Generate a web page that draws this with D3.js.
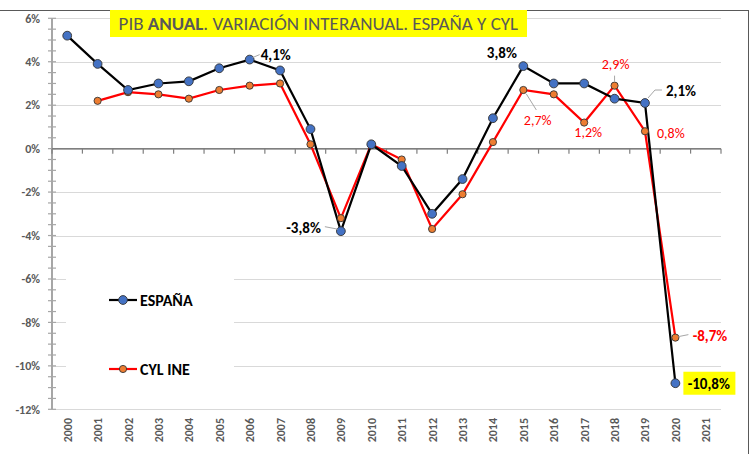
<!DOCTYPE html>
<html>
<head>
<meta charset="utf-8">
<script src="https://cdn.jsdelivr.net/npm/d3@7"></script>
<style>
  body { margin: 0; background: #fff; }
  text { font-family: Carlito, "Open Sans", "Liberation Sans", sans-serif; }
</style>
</head>
<body>
<svg width="751" height="454"></svg>
<script>
"use strict";
// years on the x axis
var years = ["2000","2001","2002","2003","2004","2005","2006","2007","2008","2009","2010",
             "2011","2012","2013","2014","2015","2016","2017","2018","2019","2020","2021"];
// PIB variación interanual (%)
var espana = [5.2, 3.9, 2.7, 3.0, 3.1, 3.7, 4.1, 3.6, 0.9, -3.8, 0.2,
              -0.8, -3.0, -1.4, 1.4, 3.8, 3.0, 3.0, 2.3, 2.1, -10.8];
var cylYears = years.slice(1, 21);
var cyl = [2.2, 2.6, 2.5, 2.3, 2.7, 2.9, 3.0, 0.2, -3.2, 0.2,
           -0.5, -3.7, -2.1, 0.3, 2.7, 2.5, 1.2, 2.9, 0.8, -8.7];
var yTicks = [6, 4, 2, 0, -2, -4, -6, -8, -10, -12];

var svg = d3.select("svg");
var plotL = 52, plotR = 721, plotT = 18.3, plotB = 409.3;

var x = d3.scaleBand().domain(years).range([plotL, plotR]);
var y = d3.scaleLinear().domain([-12, 6]).range([plotB, plotT]);
var cx = function(yr) { return x(yr) + x.bandwidth() / 2; };
var fmt = function(v) { return (v + "").replace(".", ",") + "%"; };

// frame
svg.append("line").attr("x1", 0).attr("x2", 748).attr("y1", 10.5).attr("y2", 10.5)
  .attr("stroke", "#595959").attr("stroke-width", 1);
svg.append("line").attr("x1", 748.5).attr("x2", 748.5).attr("y1", 10).attr("y2", 454)
  .attr("stroke", "#595959").attr("stroke-width", 1);

// gridlines
svg.append("g").selectAll("line").data(yTicks).enter().append("line")
  .attr("x1", plotL).attr("x2", plotR)
  .attr("y1", function(d) { return Math.round(y(d)) + 0.5; })
  .attr("y2", function(d) { return Math.round(y(d)) + 0.5; })
  .attr("stroke", "#d9d9d9").attr("stroke-width", 1.2);

// legend background hides gridlines
svg.append("rect").attr("x", 66).attr("y", 255).attr("width", 168).attr("height", 145).attr("fill", "#fff");

// y axis with minor ticks every 0.5
var minor = d3.range(-12, 6.01, 0.5);
var yAxis = svg.append("g");
yAxis.append("line").attr("x1", plotL).attr("x2", plotL).attr("y1", plotT).attr("y2", plotB)
  .attr("stroke", "#a6a6a6").attr("stroke-width", 2);
yAxis.selectAll("line.tk").data(minor).enter().append("line").attr("class", "tk")
  .attr("x1", plotL - 4).attr("x2", plotL + 4)
  .attr("y1", function(d) { return y(d); }).attr("y2", function(d) { return y(d); })
  .attr("stroke", "#a6a6a6").attr("stroke-width", 1.2);
yAxis.selectAll("text").data(yTicks).enter().append("text")
  .attr("x", 40).attr("y", function(d) { return y(d); }).attr("dy", "0.35em")
  .attr("text-anchor", "end").attr("font-size", 12).attr("font-weight", "bold")
  .attr("fill", "#595959").text(function(d) { return d + "%"; });

// x axis on the zero line
var xAxis = svg.append("g");
xAxis.append("line").attr("x1", plotL).attr("x2", plotR).attr("y1", y(0)).attr("y2", y(0))
  .attr("stroke", "#7f7f7f").attr("stroke-width", 1.5);
xAxis.selectAll("line.tk").data(years.concat(["end"])).enter().append("line").attr("class", "tk")
  .attr("x1", function(d, i) { return plotL + i * x.bandwidth(); })
  .attr("x2", function(d, i) { return plotL + i * x.bandwidth(); })
  .attr("y1", y(0)).attr("y2", y(0) + 5)
  .attr("stroke", "#7f7f7f").attr("stroke-width", 1.2);
xAxis.selectAll("text").data(years).enter().append("text")
  .attr("transform", function(d) { return "translate(" + (cx(d) + 4.5) + ",418) rotate(-90)"; })
  .attr("text-anchor", "end").attr("font-size", 12).attr("font-weight", "bold")
  .attr("fill", "#595959").text(function(d) { return d; });

// lines
var lineE = d3.line().x(function(d, i) { return cx(years[i]); }).y(function(d) { return y(d); });
var lineC = d3.line().x(function(d, i) { return cx(cylYears[i]); }).y(function(d) { return y(d); });
svg.append("path").attr("d", lineC(cyl)).attr("fill", "none").attr("stroke", "#ff0000").attr("stroke-width", 2.2);
svg.append("path").attr("d", lineE(espana)).attr("fill", "none").attr("stroke", "#000").attr("stroke-width", 2.2);

svg.append("g").selectAll("circle").data(cyl).enter().append("circle")
  .attr("cx", function(d, i) { return cx(cylYears[i]); }).attr("cy", function(d) { return y(d); })
  .attr("r", 3.6).attr("fill", "#ed7d31").attr("stroke", "#333").attr("stroke-width", 0.9);
svg.append("g").selectAll("circle").data(espana).enter().append("circle")
  .attr("cx", function(d, i) { return cx(years[i]); }).attr("cy", function(d) { return y(d); })
  .attr("r", 4.4).attr("fill", "#4472c4").attr("stroke", "#333").attr("stroke-width", 0.9);

// data labels
function label(yr, v, dx, dy, color, bold, anchor) {
  svg.append("text").attr("x", cx(yr) + dx).attr("y", y(v) + dy).attr("dy", "0.35em")
    .attr("text-anchor", anchor || "start").attr("font-size", bold ? 15 : 14)
    .attr("font-weight", bold ? "bold" : "normal").attr("fill", color).text(fmt(v));
}
function leader(yr, v, pts) {
  var px = cx(yr), py = y(v);
  svg.append("polyline")
    .attr("points", pts.map(function(p) { return [px + p[0], py + p[1]]; }).join(" "))
    .attr("fill", "none").attr("stroke", "#a6a6a6").attr("stroke-width", 1);
}
leader("2006", 4.1, [[3, -2], [10, -5]]);
label("2006", 4.1, 11, -5, "#000", true);
leader("2009", -3.8, [[-3, -2], [-16, -4.5]]);
label("2009", -3.8, -20, -3.5, "#000", true, "end");
label("2015", 3.8, -6.5, -13, "#000", true, "end");
leader("2015", 2.7, [[3, 4], [13, 20]]);
label("2015", 2.7, 0.5, 30.5, "#ff0000", false);
label("2017", 1.2, 4, 10, "#ff0000", false, "middle");
leader("2018", 2.9, [[0, -4], [0, -10]]);
label("2018", 2.9, 1, -22, "#ff0000", false, "middle");
leader("2019", 2.1, [[3, -5], [10, -13], [17, -13]]);
label("2019", 2.1, 21, -12, "#000", true);
label("2019", 0.8, 12, 1.5, "#ff0000", false);
leader("2020", -8.7, [[3, -1], [13, -3]]);
label("2020", -8.7, 17.3, -2, "#ff0000", true);
svg.append("rect").attr("x", cx("2020") + 8).attr("y", y(-10.8) - 11.5).attr("width", 52).attr("height", 23).attr("fill", "#ffff00");
label("2020", -10.8, 12.3, 1, "#000", true);

// title
svg.append("rect").attr("x", 110).attr("y", 10).attr("width", 417).attr("height", 27).attr("fill", "#ffff00");
var title = svg.append("text").attr("x", 318.3).attr("y", 29.5)
  .attr("text-anchor", "middle").attr("font-size", 19).attr("fill", "#595959");
title.append("tspan").text("PIB ");
title.append("tspan").attr("font-weight", "bold").text("ANUAL");
title.append("tspan").text(". VARIACIÓN INTERANUAL. ESPAÑA Y CYL");

// legend
var legend = [{name: "ESPAÑA", line: "#000", fill: "#4472c4", r: 4.4, yy: 300},
              {name: "CYL INE", line: "#ff0000", fill: "#ed7d31", r: 3.6, yy: 369}];
var lg = svg.append("g").selectAll("g").data(legend).enter().append("g");
lg.append("line").attr("x1", 109).attr("x2", 137).attr("y1", function(d) { return d.yy; })
  .attr("y2", function(d) { return d.yy; }).attr("stroke", function(d) { return d.line; }).attr("stroke-width", 2.2);
lg.append("circle").attr("cx", 123).attr("cy", function(d) { return d.yy; }).attr("r", function(d) { return d.r; })
  .attr("fill", function(d) { return d.fill; }).attr("stroke", "#333").attr("stroke-width", 0.9);
lg.append("text").attr("x", 140).attr("y", function(d) { return d.yy; }).attr("dy", "0.35em")
  .attr("font-size", 16).attr("font-weight", "bold").attr("fill", "#000").text(function(d) { return d.name; });
</script>
</body>
</html>
